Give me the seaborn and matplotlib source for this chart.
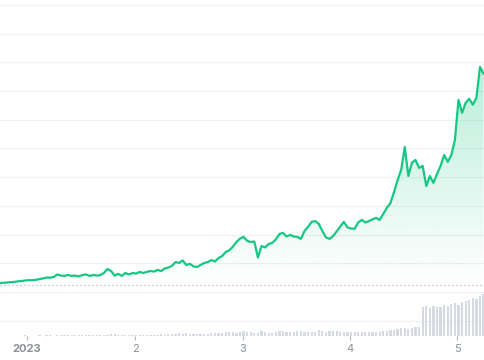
import numpy as np
import pandas as pd
import matplotlib
matplotlib.use("Agg")
import matplotlib.pyplot as plt
import matplotlib.colors as mcolors
import seaborn as sns

# ---------------- data ----------------
days = list(range(136))
price = [
    0.31, 0.32, 0.33, 0.34, 0.35, 0.37, 0.38, 0.40, 0.41, 0.41,
    0.42, 0.45, 0.47, 0.50, 0.50, 0.52, 0.61, 0.57, 0.56, 0.59,
    0.56, 0.57, 0.54, 0.59, 0.61, 0.56, 0.59, 0.57, 0.59, 0.66,
    0.80, 0.73, 0.57, 0.63, 0.56, 0.66, 0.61, 0.66, 0.64, 0.70,
    0.66, 0.70, 0.73, 0.71, 0.77, 0.73, 0.82, 0.85, 0.91, 1.04,
    1.01, 1.10, 0.94, 0.98, 0.89, 0.87, 0.94, 1.01, 1.04, 1.11,
    1.06, 1.18, 1.25, 1.39, 1.45, 1.57, 1.74, 1.86, 1.92, 1.78,
    1.74, 1.76, 1.20, 1.60, 1.55, 1.67, 1.71, 1.83, 2.02, 2.06,
    1.93, 1.99, 1.93, 1.92, 1.85, 2.12, 2.27, 2.44, 2.47, 2.37,
    2.12, 1.90, 1.85, 1.95, 2.11, 2.28, 2.44, 2.25, 2.21, 2.20,
    2.42, 2.51, 2.42, 2.47, 2.53, 2.58, 2.51, 2.72, 2.93, 3.10,
    3.48, 3.90, 4.25, 5.05, 4.04, 4.50, 4.60, 4.32, 4.39, 3.69,
    4.04, 3.80, 4.11, 4.39, 4.77, 4.53, 4.77, 5.30, 6.69, 6.24,
    6.59, 6.73, 6.52, 6.76, 7.84, 7.60,
]
volume = [
    0.4, 0.3, 0.5, 0.4, 0.3, 0.5, 0.4, 0.6, 0.4, 0.5,
    0.5, 0.6, 0.5, 0.7, 0.6, 0.5, 0.8, 1.0, 0.7, 0.6,
    0.7, 0.6, 0.8, 0.7, 0.6, 0.7, 0.8, 0.6, 0.7, 0.9,
    1.5, 2.2, 1.6, 1.0, 1.2, 0.9, 1.1, 1.3, 1.0, 1.2,
    1.1, 1.4, 1.2, 1.3, 1.5, 1.6, 1.4, 1.8, 2.0, 2.4,
    2.8, 2.5, 3.0, 2.2, 2.0, 1.8, 1.6, 2.0, 2.3, 2.6,
    2.8, 3.2, 3.0, 3.6, 4.0, 3.8, 3.5, 4.5, 5.0, 4.2,
    3.6, 3.4, 3.2, 5.0, 3.8, 3.5, 3.3, 3.9, 4.6, 5.2,
    4.4, 4.0, 3.8, 4.8, 5.5, 4.2, 3.6, 3.9, 4.4, 6.2,
    5.0, 4.3, 4.6, 5.4, 4.8, 4.2, 4.0, 3.8, 3.6, 3.9,
    4.0, 3.7, 3.9, 4.2, 3.8, 4.5, 4.1, 4.8, 5.5, 6.0,
    6.5, 7.0, 7.8, 8.5, 7.4, 8.0, 9.0, 9.5,
    29.0, 30.0, 28.5, 30.0, 29.0, 29.5, 31.0, 30.0, 32.0, 33.0,
    31.5, 34.0, 35.0, 36.5, 38.0, 37.0, 40.0, 42.0,
]
start_ref = 0.244
tick_days = [7.5, 37.7, 67.8, 97.7, 127.6]
tick_labels = ["2023", "2", "3", "4", "5"]
grid_levels = list(range(-1, 11))

# ---------------- style ----------------
sns.set_theme(style="white")
plt.rcParams['font.family'] = ['Inter', 'DejaVu Sans']

GREEN = "#16c784"
XMAX = 135.4

fig = plt.figure(figsize=(4.85, 3.6), dpi=100)
ax = fig.add_axes([0, 0, 1, 1])
ax.patch.set_alpha(0)

for g in grid_levels:
    ax.axhline(g, color="#eff0f3", lw=0.8, zorder=0)
ax.axhline(start_ref, color="#b3b7c1", lw=0.9, ls=(0, (1, 2.2)), zorder=1)

df = pd.DataFrame({"day": days, "price": price})
sns.lineplot(data=df, x="day", y="price", ax=ax, color=GREEN, lw=1.6, zorder=4)

# gradient fill under the line
poly = ax.fill_between(days, price, start_ref, color="none", lw=0)
top = max(price)
img = np.zeros((256, 1, 4))
img[:, :, :3] = mcolors.to_rgb(GREEN)
img[:, 0, 3] = np.linspace(0.0, 0.30, 256)
im = ax.imshow(img, aspect="auto", extent=[0, XMAX, start_ref, top],
               origin="lower", zorder=2, interpolation="bilinear")
im.set_clip_path(poly.get_paths()[0], transform=ax.transData)

ax.set_xlim(0, XMAX)
ax.set_ylim(-2.37, 10.17)
ax.set_axis_off()

# ---------------- volume ----------------
axv = fig.add_axes([0, 24 / 360, 1, 44 / 360])
axv.patch.set_alpha(0)
dv = pd.DataFrame({"day": days, "volume": volume})
sns.barplot(data=dv, x="day", y="volume", native_scale=True, ax=axv,
            color="#d6dae3", width=0.62, linewidth=0, saturation=1)
axv.set_xlim(0, XMAX)
axv.set_ylim(0, 44)
for s in axv.spines.values():
    s.set_visible(False)
axv.set_ylabel("")
axv.set_xlabel("")
axv.set_yticks([])
axv.set_xticks(tick_days)
axv.set_xticklabels(tick_labels)
axv.tick_params(axis="x", bottom=True, length=3, width=0.8, color="#b0b4bd",
                labelcolor="#8a8f99", labelsize=8, pad=3)
axv.get_xticklabels()[0].set_fontweight("bold")

fig.savefig("out.png", dpi=100)
